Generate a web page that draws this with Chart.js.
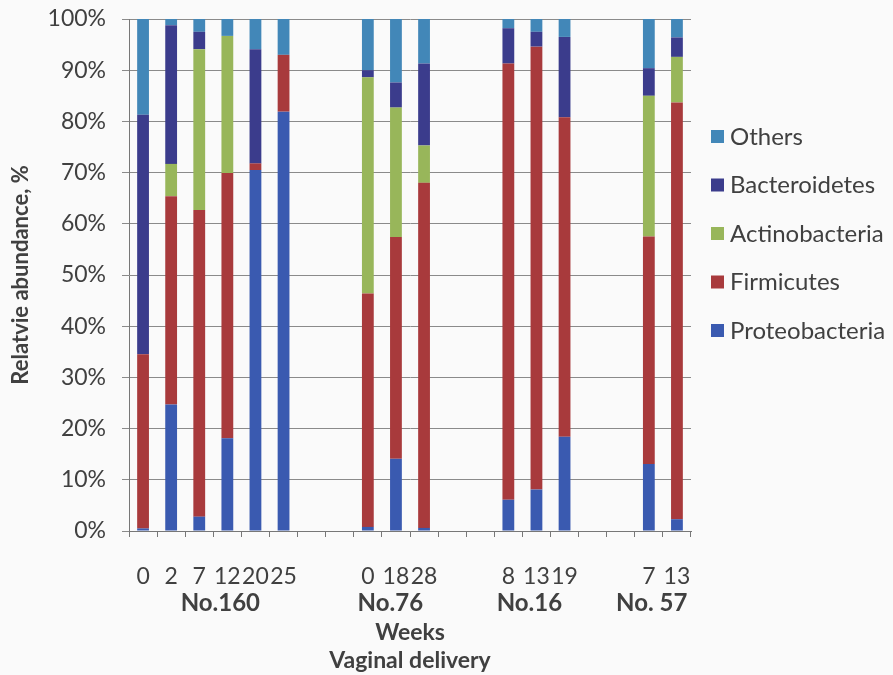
<!DOCTYPE html>
<html>
<head>
<meta charset="utf-8">
<script src="https://cdn.jsdelivr.net/npm/chart.js@4/dist/chart.umd.min.js"></script>
<style>
  html, body { margin: 0; padding: 0; background: #fafafa; }
  #wrap { width: 893px; height: 675px; }
</style>
</head>
<body>
<div id="wrap"><canvas id="myChart"></canvas></div>
<script>
// weeks under each bar, '' = spacer between subjects
var weeks = ['0', '2', '7', '12', '20', '25', '', '', '0', '18', '28', '', '', '8', '13', '19', '', '', '7', '13'];
var groups = ['No.160', 'No.76', 'No.16', 'No. 57'];
var groupCenter = [2.75, 8.8, 13.75, 18.1]; // category index where the group label sits

var proteobacteria = [0.5, 24.7, 2.8, 18.1, 70.5, 81.9, null, null, 0.8, 14.1, 0.6, null, null, 6.1, 8.1, 18.4, null, null, 13.1, 2.3];
var firmicutes     = [34.0, 40.7, 59.9, 51.8, 1.3, 11.1, null, null, 45.6, 43.3, 67.4, null, null, 85.2, 86.5, 62.4, null, null, 44.4, 81.4];
var actinobacteria = [0, 6.3, 31.4, 26.8, 0, 0, null, null, 42.2, 25.3, 7.3, null, null, 0, 0, 0, null, null, 27.5, 8.9];
var bacteroidetes  = [46.8, 27.1, 3.4, 0, 22.3, 0, null, null, 1.4, 4.9, 16.0, null, null, 6.9, 2.9, 15.7, null, null, 5.4, 3.8];
var others         = [18.7, 1.2, 2.5, 3.3, 5.9, 7.0, null, null, 10.0, 12.4, 8.7, null, null, 1.8, 2.5, 3.5, null, null, 9.6, 3.6];

var yTicks = [0, 10, 20, 30, 40, 50, 60, 70, 80, 90, 100];

var txt = '#404040';
var font = 'Lato, "Open Sans", sans-serif';

// group names under the week labels + legend on the right
var extras = {
    id: 'extras',
    afterDraw: function (chart) {
        var ctx = chart.ctx;
        var xs = chart.scales.x;
        ctx.save();
        ctx.fillStyle = txt;
        ctx.textAlign = 'center';
        ctx.textBaseline = 'middle';
        ctx.font = 'bold 24px ' + font;
        for (var i = 0; i < groups.length; i++) {
            ctx.fillText(groups[i], xs.getPixelForValue(groupCenter[i]), 603);
        }
        // legend, reversed order like the stack
        var ds = chart.data.datasets;
        var x0 = chart.chartArea.right + 20;
        var y0 = 136;
        ctx.textAlign = 'left';
        ctx.font = '24px ' + font;
        for (var k = 0; k < ds.length; k++) {
            var d = ds[ds.length - 1 - k];
            var y = y0 + k * 48.5;
            ctx.fillStyle = d.backgroundColor;
            ctx.fillRect(x0, y - 6, 13, 13);
            ctx.fillStyle = txt;
            ctx.fillText(d.label, x0 + 19, y + 1);
        }
        ctx.restore();
    }
};

var ctx = document.getElementById('myChart');
var myChart = new Chart(ctx, {
    type: 'bar',
    data: {
        labels: weeks,
        datasets: [
            { label: 'Proteobacteria', data: proteobacteria, backgroundColor: '#3a5ab0' },
            { label: 'Firmicutes', data: firmicutes, backgroundColor: '#a83a3c' },
            { label: 'Actinobacteria', data: actinobacteria, backgroundColor: '#98b65a' },
            { label: 'Bacteroidetes', data: bacteroidetes, backgroundColor: '#3b3c8c' },
            { label: 'Others', data: others, backgroundColor: '#4287b8' }
        ]
    },
    options: {
        responsive: true,
        maintainAspectRatio: false,
        animation: false,
        datasets: { bar: { barPercentage: 0.42, categoryPercentage: 1 } },
        layout: { padding: { top: 19, right: 202, left: 0, bottom: 0 } },
        plugins: {
            legend: { display: false },
            tooltip: { enabled: false }
        },
        scales: {
            x: {
                stacked: true,
                afterFit: function (s) { s.height = 144; },
                grid: { drawOnChartArea: false, drawTicks: true, tickLength: 6, color: '#777' },
                border: { color: '#777' },
                ticks: {
                    autoSkip: false, maxRotation: 0, minRotation: 0, padding: 26,
                    color: txt, font: { family: font, size: 23 }
                },
                title: {
                    display: true,
                    text: ['Weeks', 'Vaginal delivery'],
                    color: txt,
                    font: { family: font, size: 23, weight: 'bold', lineHeight: 1.22 },
                    padding: { top: 0, bottom: 0 }
                }
            },
            y: {
                stacked: true,
                min: 0,
                max: 100,
                afterFit: function (s) { s.width = 129; s.paddingTop = 0; s.paddingBottom = 0; },
                afterBuildTicks: function (s) { s.ticks = yTicks.map(function (v) { return { value: v }; }); },
                grid: { color: '#8a8a8a', tickLength: 7 },
                border: { color: '#777' },
                ticks: {
                    padding: 16,
                    color: txt,
                    font: { family: font, size: 23 },
                    callback: function (v) { return v + '%'; }
                },
                title: {
                    display: true,
                    text: 'Relatvie abundance, %',
                    color: txt,
                    font: { family: font, size: 22, weight: 'bold' },
                    padding: { top: 8, bottom: 0 }
                }
            }
        }
    },
    plugins: [extras]
});
</script>
</body>
</html>
